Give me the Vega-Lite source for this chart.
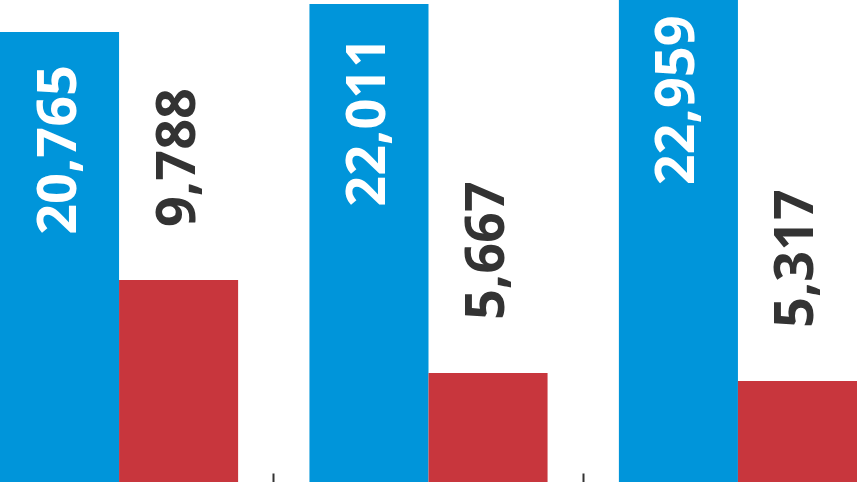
{
  "$schema": "https://vega.github.io/schema/vega-lite/v6.json",
  "width": 857,
  "height": 482,
  "autosize": {"type": "none"},
  "padding": 0,
  "background": "white",
  "config": {"view": {"stroke": null}},
  "data": {
    "values": [
      {"group": "1", "series": "blue", "value": 20765},
      {"group": "1", "series": "red", "value": 9788},
      {"group": "2", "series": "blue", "value": 22011},
      {"group": "2", "series": "red", "value": 5667},
      {"group": "3", "series": "blue", "value": 22959},
      {"group": "3", "series": "red", "value": 5317}
    ]
  },
  "encoding": {
    "x": {
      "field": "group",
      "type": "nominal",
      "sort": null,
      "scale": {"range": [0, 857], "paddingInner": 0.2305, "paddingOuter": 0},
      "axis": {
        "values": ["2", "3"],
        "labels": false,
        "domain": false,
        "title": null,
        "grid": false,
        "bandPosition": -0.1498,
        "tickSize": -9,
        "tickColor": "#333333",
        "tickWidth": 2
      }
    },
    "xOffset": {
      "field": "series",
      "type": "nominal",
      "scale": {"paddingInner": 0, "paddingOuter": 0}
    },
    "y": {
      "field": "value",
      "type": "quantitative",
      "scale": {"domain": [846, 22183], "nice": false, "zero": false},
      "axis": null
    }
  },
  "layer": [
    {
      "mark": {"type": "bar", "clip": true},
      "encoding": {
        "color": {
          "field": "series",
          "type": "nominal",
          "scale": {"domain": ["blue", "red"], "range": ["#0095da", "#c8363d"]},
          "legend": null
        }
      }
    },
    {
      "transform": [{"filter": "datum.series === 'blue'"}],
      "mark": {
        "type": "text",
        "angle": 270,
        "align": "right",
        "baseline": "middle",
        "dx": -33,
        "font": "Open Sans",
        "fontWeight": "bold",
        "fontSize": 54,
        "color": "white"
      },
      "encoding": {"text": {"field": "value", "type": "quantitative", "format": ","}}
    },
    {
      "transform": [{"filter": "datum.series === 'red'"}],
      "mark": {
        "type": "text",
        "angle": 270,
        "align": "left",
        "baseline": "middle",
        "dx": 53,
        "font": "Open Sans",
        "fontWeight": "bold",
        "fontSize": 54,
        "color": "#333333"
      },
      "encoding": {"text": {"field": "value", "type": "quantitative", "format": ","}}
    }
  ]
}
